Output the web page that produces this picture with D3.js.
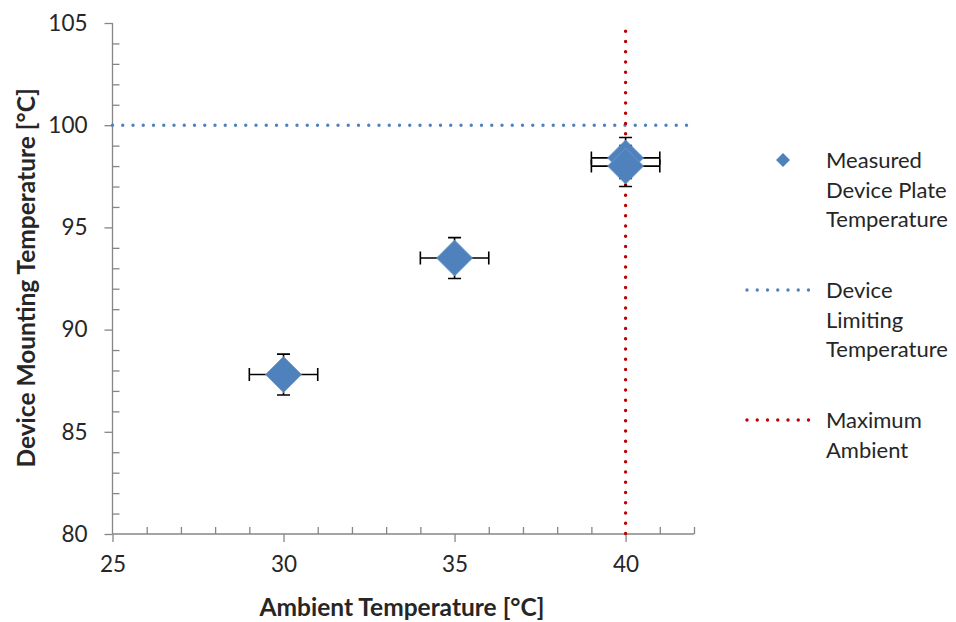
<!DOCTYPE html>
<html>
<head>
<meta charset="utf-8">
<script src="https://cdn.jsdelivr.net/npm/d3@7/dist/d3.min.js"></script>
<style>
  html, body { margin: 0; padding: 0; background: #fff; }
  svg { display: block; }
  text { font-family: Lato, "Open Sans", sans-serif; }
</style>
</head>
<body>
<svg id="chart" width="956" height="622"></svg>
<script>
// Measured plate temperatures (two runs at 40 °C overlap)
const ambient = [30, 35, 40, 40];
const plateTemp = [87.8, 93.5, 98.4, 98.0];
const xError = [1, 1, 1, 1];
const yError = [1, 1, 1, 1];

// Reference lines
const limitLineX = [25, 41.8];
const limitLineY = [100, 100];
const ambientLineX = [40, 40];
const ambientLineY = [80, 104.6];

const xTicks = [25, 30, 35, 40];
const yTicks = [80, 85, 90, 95, 100, 105];

const legendLabels = [
  ["Measured", "Device Plate", "Temperature"],
  ["Device", "Limiting", "Temperature"],
  ["Maximum", "Ambient"]
];

const blue = "#4f81bd";
const red = "#c00000";
const axisGray = "#868686";
const textColor = "#262626";

const svg = d3.select("#chart");

const x = d3.scaleLinear().domain([25, 42]).range([112.5, 694]);
const y = d3.scaleLinear().domain([80, 105]).range([534, 23]);

// Minor ticks (inside) every 1 unit
svg.append("g")
  .attr("transform", `translate(0,${y(80)})`)
  .call(d3.axisTop(x).tickValues(d3.range(26, 43, 1).filter(v => v % 5 !== 0 || v > 40)).tickSize(7).tickFormat(""))
  .call(g => g.select(".domain").remove())
  .call(g => g.selectAll("line").attr("stroke", axisGray).attr("stroke-width", 1.3));
svg.append("g")
  .attr("transform", `translate(${x(25)},0)`)
  .call(d3.axisRight(y).tickValues(d3.range(81, 105, 1).filter(v => v % 5 !== 0)).tickSize(7).tickFormat(""))
  .call(g => g.select(".domain").remove())
  .call(g => g.selectAll("line").attr("stroke", axisGray).attr("stroke-width", 1.3));

// Major axes
const xAxis = svg.append("g")
  .attr("transform", `translate(0,${y(80)})`)
  .call(d3.axisBottom(x).tickValues(xTicks).tickSize(8).tickSizeOuter(0).tickPadding(14).tickFormat(d3.format("d")));
const yAxis = svg.append("g")
  .attr("transform", `translate(${x(25)},0)`)
  .call(d3.axisLeft(y).tickValues(yTicks).tickSize(8).tickSizeOuter(0).tickPadding(17).tickFormat(d3.format("d")));
[xAxis, yAxis].forEach(g => {
  g.select(".domain").attr("stroke", axisGray).attr("stroke-width", 1.3);
  g.selectAll(".tick line").attr("stroke", axisGray).attr("stroke-width", 1.3);
  g.selectAll(".tick text").attr("fill", textColor).style("font-size", "22.5px").style("font-family", "Lato, sans-serif");
});
xAxis.select(".domain").attr("d", `M${x(25)},0H${x(42)}`);
yAxis.select(".domain").attr("d", `M0,${y(80)}V${y(105)}`);

// Axis titles
svg.append("text")
  .attr("x", 402)
  .attr("y", 616)
  .attr("text-anchor", "middle")
  .attr("fill", textColor)
  .style("font-size", "24.5px").style("font-weight", "bold")
  .text("Ambient Temperature  [°C]");
svg.append("text")
  .attr("transform", `translate(35,278) rotate(-90)`)
  .attr("text-anchor", "middle")
  .attr("fill", textColor)
  .style("font-size", "24.5px").style("font-weight", "bold")
  .text("Device Mounting Temperature  [°C]");

// Dotted reference lines
const line = d3.line().x(d => x(d[0])).y(d => y(d[1]));
function dotted(sel, color) {
  return sel.attr("fill", "none").attr("stroke", color).attr("stroke-width", 3.4)
    .attr("stroke-linecap", "round").attr("stroke-dasharray", "0 10.25");
}
dotted(svg.append("path").attr("d", line(d3.zip(limitLineX, limitLineY))), blue);
dotted(svg.append("path").attr("d", line(d3.zip(ambientLineX, ambientLineY.slice().reverse()))), red);

// Error bars
const cap = 6.5;
const eb = svg.append("g").attr("stroke", "#000").attr("stroke-width", 1.6).attr("fill", "none");
ambient.forEach((a, i) => {
  const cx = x(a), cy = y(plateTemp[i]);
  const x0 = x(a - xError[i]), x1 = x(a + xError[i]);
  const y0 = y(plateTemp[i] - yError[i]), y1 = y(plateTemp[i] + yError[i]);
  eb.append("path").attr("d",
    `M${x0},${cy}H${x1}M${x0},${cy - cap}V${cy + cap}M${x1},${cy - cap}V${cy + cap}` +
    `M${cx},${y0}V${y1}M${cx - cap},${y0}H${cx + cap}M${cx - cap},${y1}H${cx + cap}`);
});

// Diamond markers
const diamond = r => `M0,${-r}L${r},0L0,${r}L${-r},0Z`;
svg.append("g").selectAll("path")
  .data(ambient.map((a, i) => [a, plateTemp[i]]))
  .join("path")
  .attr("transform", d => `translate(${x(d[0])},${y(d[1])})`)
  .attr("d", diamond(18))
  .attr("fill", blue)
  .attr("stroke", "#6f98cf")
  .attr("stroke-width", 0.8);

// Legend
const legend = svg.append("g");
const entryTop = [160, 290, 420];
const lineH = 29.5;
legendLabels.forEach((lines, i) => {
  const ty = entryTop[i];
  if (i === 0) {
    legend.append("path").attr("transform", `translate(783,${ty})`).attr("d", diamond(7)).attr("fill", blue);
  } else {
    dotted(legend.append("path").attr("d", `M747,${ty}H812`), i === 1 ? blue : red);
  }
  lines.forEach((t, j) => {
    legend.append("text")
      .attr("x", 826).attr("y", ty + j * lineH + 8)
      .attr("fill", textColor)
      .style("font-size", "22px")
      .text(t);
  });
});
</script>
</body>
</html>
